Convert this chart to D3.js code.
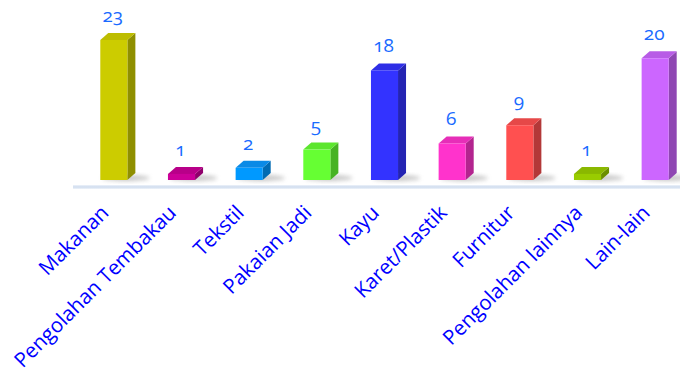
<!DOCTYPE html>
<html>
<head>
<meta charset="utf-8">
<script src="https://cdn.jsdelivr.net/npm/d3@7"></script>
<style>
  html, body { margin: 0; padding: 0; background: #ffffff; }
  svg { display: block; }
  text { font-family: "Open Sans", "Noto Sans", sans-serif; }
</style>
</head>
<body>
<svg id="chart" width="680" height="376"></svg>
<script>
// Jumlah industri per kelompok
const categories = ["Makanan", "Pengolahan Tembakau", "Tekstil", "Pakaian Jadi", "Kayu",
                    "Karet/Plastik", "Furnitur", "Pengolahan lainnya", "Lain-lain"];
const values = [23, 1, 2, 5, 18, 6, 9, 1, 20];
// front / side / top shades for each column
const frontColors = ["#cccc00", "#cc0099", "#0099ff", "#66ff33", "#3333ff", "#ff33cc", "#ff5050", "#99cc00", "#cc66ff"];
const sideColors  = ["#8f8f00", "#8f006b", "#006bb3", "#47b324", "#2424b3", "#b3248f", "#b33838", "#6b8f00", "#8f47b3"];
const topColors   = ["#bdbd00", "#b80089", "#0a8ae6", "#5ce62e", "#2e2ee6", "#e62eb8", "#e64848", "#8ab800", "#b85ce6"];

const svg = d3.select("#chart");
const baseY = 180;      // floor of the columns
const depthX = 8, depthY = 7;

const x = d3.scaleBand()
  .domain(categories)
  .range([80, 689])
  .paddingInner(0.6)
  .paddingOuter(0.3);

const y = d3.scaleLinear()
  .domain([0, 23])
  .range([baseY, 40]);

const defs = svg.append("defs");
defs.append("filter").attr("id", "soft")
  .attr("x", "-50%").attr("y", "-50%").attr("width", "200%").attr("height", "200%")
  .append("feGaussianBlur").attr("stdDeviation", 2.2);
const floorGrad = defs.append("linearGradient").attr("id", "floorGrad")
  .attr("x1", 0).attr("x2", 0).attr("y1", 0).attr("y2", 1);
floorGrad.append("stop").attr("offset", "0%").attr("stop-color", "#eef3fa");
floorGrad.append("stop").attr("offset", "50%").attr("stop-color", "#cfdcee");
floorGrad.append("stop").attr("offset", "100%").attr("stop-color", "#eef3fa");

// floor strip
svg.append("rect")
  .attr("x", 73).attr("y", 185).attr("width", 607).attr("height", 4)
  .attr("fill", "url(#floorGrad)");

const data = categories.map((c, i) => ({ c, v: values[i], i }));

// soft shadows under columns
svg.append("g").selectAll("ellipse")
  .data(data).join("ellipse")
  .attr("cx", d => x(d.c) + x.bandwidth() / 2 + 12)
  .attr("cy", baseY - 2)
  .attr("rx", x.bandwidth() / 2 + 10)
  .attr("ry", 3)
  .attr("fill", "#9a9a9a")
  .attr("opacity", 0.55)
  .attr("filter", "url(#soft)");

const bars = svg.append("g").selectAll("g")
  .data(data).join("g");

// side face
bars.append("path")
  .attr("d", d => {
    const x1 = x(d.c) + x.bandwidth(), yt = y(d.v);
    return `M${x1},${yt}L${x1 + depthX},${yt - depthY}L${x1 + depthX},${baseY - depthY}L${x1},${baseY}Z`;
  })
  .attr("fill", d => sideColors[d.i]);

// top face
bars.append("path")
  .attr("d", d => {
    const x0 = x(d.c), x1 = x0 + x.bandwidth(), yt = y(d.v);
    return `M${x0},${yt}L${x0 + depthX},${yt - depthY}L${x1 + depthX},${yt - depthY}L${x1},${yt}Z`;
  })
  .attr("fill", d => topColors[d.i]);

// front face
bars.append("rect")
  .attr("x", d => x(d.c))
  .attr("y", d => y(d.v))
  .attr("width", x.bandwidth())
  .attr("height", d => baseY - y(d.v))
  .attr("fill", d => frontColors[d.i]);

// value labels
svg.append("g").selectAll("text")
  .data(data).join("text")
  .attr("x", d => x(d.c) + x.bandwidth() / 2 - 1)
  .attr("y", d => y(d.v) - 18)
  .attr("text-anchor", "middle")
  .attr("fill", "#1a6bff")
  .attr("font-size", 19)
  .style("font-variant-numeric", "oldstyle-nums")
  .text(d => d.v);

// category axis labels, rotated
const axis = d3.axisBottom(x).tickSize(0).tickPadding(0);
const axisG = svg.append("g").attr("transform", "translate(0,214)").call(axis);
axisG.select(".domain").remove();
axisG.selectAll("text")
  .attr("fill", "#0000ff")
  .attr("font-size", 20.5)
  .attr("font-family", "\"Open Sans\", sans-serif")
  .attr("text-anchor", "end")
  .attr("dy", 0)
  .attr("y", 0)
  .attr("transform", "translate(-4,0) rotate(-45)");
</script>
</body>
</html>
